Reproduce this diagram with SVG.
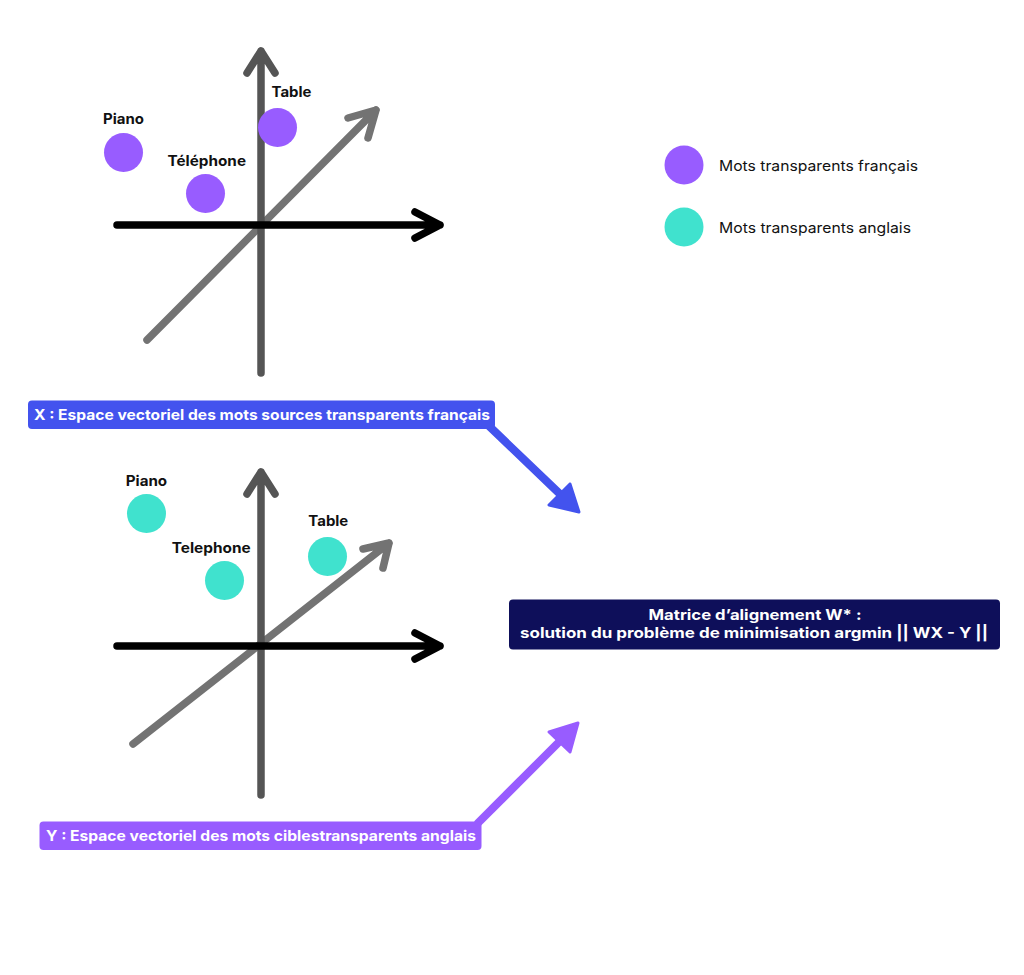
<svg xmlns="http://www.w3.org/2000/svg" width="1024" height="975" viewBox="0 0 1024 975">
  <style>
    .lbl { font-family: Inter, "Open Sans", "Liberation Sans", sans-serif; font-weight: 700; font-size: 14.5px; fill: #111111; }
    .leg { font-family: Inter, "Open Sans", "Liberation Sans", sans-serif; font-weight: 400; font-size: 14.5px; fill: #111111; }
    .box { font-family: Inter, "Open Sans", "Liberation Sans", sans-serif; font-weight: 700; font-size: 14.5px; fill: #ffffff; }
    .ax { fill: none; stroke-linecap: round; stroke-linejoin: round; stroke-width: 7.5; }
    .v { stroke: #555555; }
    .h { stroke: #000000; }
    .d { stroke: #737373; }
    .fr { fill: #985CFF; }
    .en { fill: #40E2CE; }
  </style>
  <rect width="1024" height="975" fill="#ffffff"/>

  <g id="axes-fr">
    <path class="ax d" d="M147,340 L376,110 M348,118 L376,110 L368,138"/>
    <path class="ax v" d="M261,373 L261,51 M247,73 L261,51 L275,73"/>
    <path class="ax h" d="M117,225 L440,225 M415,212 L440,225 L415,238"/>
  </g>
  <g id="fr-piano"><circle class="fr" cx="123.5" cy="152.5" r="19.5"/><text class="lbl" x="103" y="124" textLength="41" lengthAdjust="spacingAndGlyphs">Piano</text></g>
  <g id="fr-telephone"><circle class="fr" cx="205.5" cy="193.5" r="19.5"/><text class="lbl" x="167.5" y="165.5" textLength="78.5" lengthAdjust="spacingAndGlyphs">Téléphone</text></g>
  <g id="fr-table"><circle class="fr" cx="277.5" cy="127.5" r="19.5"/><text class="lbl" x="271.5" y="97.3" textLength="40" lengthAdjust="spacingAndGlyphs">Table</text></g>

  <g id="axes-en">
    <path class="ax d" d="M133,744 L389,543 M363,549 L389,543 L383,568"/>
    <path class="ax v" d="M261,795 L261,472 M247,494 L261,472 L275,494"/>
    <path class="ax h" d="M117,646 L440,646 M415,633 L440,646 L415,659"/>
  </g>
  <g id="en-piano"><circle class="en" cx="146.5" cy="513.5" r="19.5"/><text class="lbl" x="125.7" y="485.7" textLength="41.5" lengthAdjust="spacingAndGlyphs">Piano</text></g>
  <g id="en-telephone"><circle class="en" cx="224.5" cy="580.5" r="19.5"/><text class="lbl" x="171.7" y="552.7" textLength="79" lengthAdjust="spacingAndGlyphs">Telephone</text></g>
  <g id="en-table"><circle class="en" cx="327.5" cy="556.5" r="19.5"/><text class="lbl" x="308.3" y="525.7" textLength="40" lengthAdjust="spacingAndGlyphs">Table</text></g>

  <g id="legend">
    <circle class="fr" cx="684" cy="165" r="19.5"/>
    <text class="leg" x="719" y="171" textLength="199" lengthAdjust="spacingAndGlyphs">Mots transparents français</text>
    <circle class="en" cx="684" cy="227" r="19.5"/>
    <text class="leg" x="719" y="232.5" textLength="192" lengthAdjust="spacingAndGlyphs">Mots transparents anglais</text>
  </g>

  <g id="connectors">
    <line x1="489" y1="426" x2="561" y2="495" stroke="#4353EE" stroke-width="8" stroke-linecap="round"/>
    <polygon points="579,512 570,484 549,505" fill="#4353EE" stroke="#4353EE" stroke-width="3" stroke-linejoin="round"/>
    <line x1="478" y1="823" x2="561" y2="740" stroke="#985CFF" stroke-width="8" stroke-linecap="round"/>
    <polygon points="578,723 549,732 570,752" fill="#985CFF" stroke="#985CFF" stroke-width="3" stroke-linejoin="round"/>
  </g>

  <g id="label-x">
    <rect x="28" y="400.5" width="467" height="28.5" rx="4" fill="#4353EE"/>
    <text class="box" x="34" y="420" textLength="456" lengthAdjust="spacingAndGlyphs">X : Espace vectoriel des mots sources transparents français</text>
  </g>
  <g id="label-y">
    <rect x="39.5" y="821.5" width="442" height="28.5" rx="4" fill="#985CFF"/>
    <text class="box" x="46" y="841" textLength="430" lengthAdjust="spacingAndGlyphs">Y : Espace vectoriel des mots ciblestransparents anglais</text>
  </g>
  <g id="matrix-w">
    <rect x="509" y="599.5" width="491" height="50" rx="4" fill="#0E0F5A"/>
    <text class="box" x="755" y="620" text-anchor="middle" textLength="213" lengthAdjust="spacingAndGlyphs">Matrice d’alignement W* :</text>
    <text class="box" x="754" y="637.5" text-anchor="middle" textLength="468" lengthAdjust="spacingAndGlyphs">solution du problème de minimisation argmin || WX - Y ||</text>
  </g>
</svg>
